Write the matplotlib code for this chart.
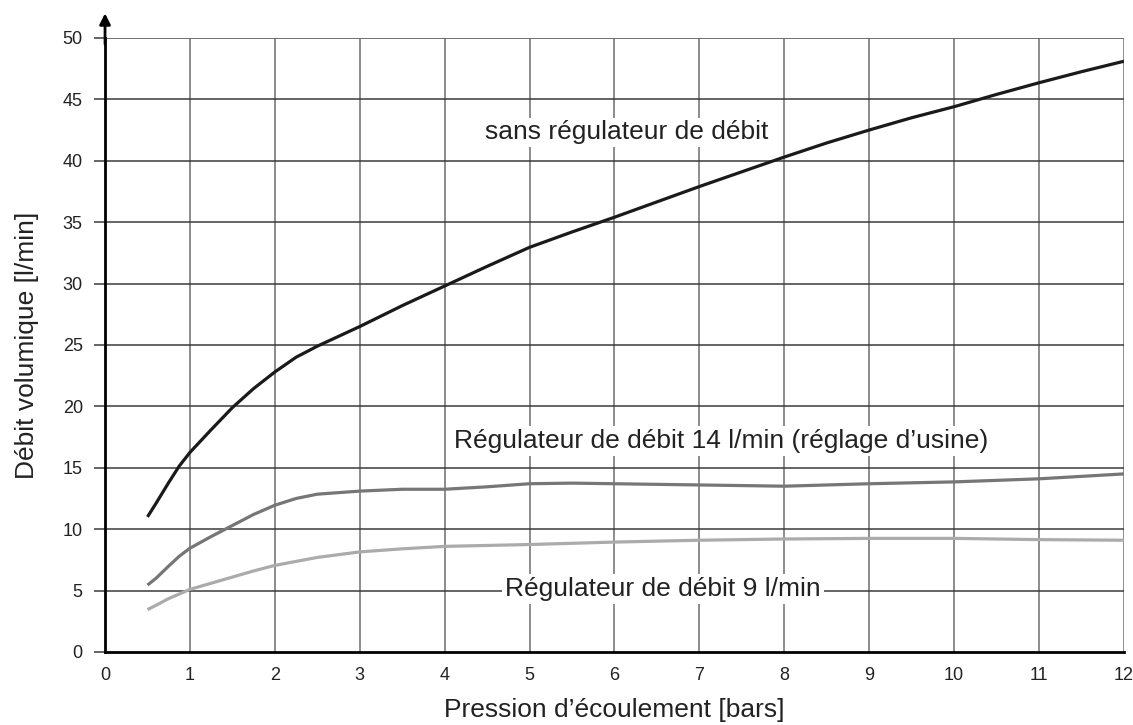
import numpy as np
import matplotlib
matplotlib.use('Agg')
import matplotlib.pyplot as plt

plt.rcParams['font.family'] = ['Liberation Sans', 'DejaVu Sans']

# values
x_free = [0.5, 0.6, 0.75, 0.875, 1.0, 1.25, 1.5, 1.75, 2.0, 2.25, 2.5, 2.75, 3.0, 3.5, 4.0,
          4.5, 5.0, 5.5, 6.0, 6.5, 7.0, 7.5, 8.0, 8.5, 9.0, 9.5, 10.0, 10.5, 11.0, 11.5, 12.0]
y_free = [11.0, 12.1, 13.8, 15.15, 16.25, 18.1, 19.9, 21.45, 22.8, 24.0, 24.9, 25.7, 26.5, 28.2, 29.8,
          31.4, 32.95, 34.2, 35.4, 36.65, 37.9, 39.1, 40.3, 41.45, 42.5, 43.5, 44.4, 45.4, 46.35, 47.25, 48.1]

x_14 = [0.5, 0.6, 0.75, 0.875, 1.0, 1.25, 1.5, 1.75, 2.0, 2.25, 2.5, 3.0, 3.5, 4.0, 4.5, 5.0,
        5.5, 6.0, 7.0, 8.0, 9.0, 10.0, 11.0, 12.0]
y_14 = [5.45, 6.0, 7.0, 7.8, 8.45, 9.4, 10.3, 11.2, 11.95, 12.5, 12.85, 13.1, 13.25, 13.25, 13.45, 13.7,
        13.75, 13.7, 13.6, 13.5, 13.7, 13.85, 14.1, 14.5]

x_9 = [0.5, 0.6, 0.75, 1.0, 1.25, 1.5, 1.75, 2.0, 2.5, 3.0, 3.5, 4.0, 5.0, 6.0, 7.0, 8.0, 9.0, 10.0, 11.0, 12.0]
y_9 = [3.45, 3.8, 4.35, 5.1, 5.6, 6.1, 6.6, 7.05, 7.7, 8.15, 8.4, 8.6, 8.75, 8.95, 9.1, 9.2, 9.25, 9.25, 9.15, 9.1]

x_ticks = list(range(0, 13))
y_ticks = list(range(0, 51, 5))

fig = plt.figure(figsize=(11.33, 7.25), dpi=100)
ax = fig.add_axes([0.0927, 0.1007, 0.8993, 0.847])
ax.set_xlim(0, 12)
ax.set_ylim(0, 50)

# grid: vertical grey, horizontal darker
for xv in x_ticks[1:]:
    ax.axvline(xv, color='#6e6e6e', lw=1.1, zorder=1)
for yv in y_ticks[1:]:
    ax.axhline(yv, color='#3a3a3a', lw=1.1, zorder=1)
ax.axhline(50, color='#777777', lw=1.1, zorder=1)

ax.plot(x_free, y_free, color='#1a1a1a', lw=2.3, zorder=4, solid_capstyle='butt')
ax.plot(x_14, y_14, color='#767676', lw=2.3, zorder=4, solid_capstyle='butt')
ax.plot(x_9, y_9, color='#ababab', lw=2.3, zorder=4, solid_capstyle='butt')

box = dict(facecolor='white', edgecolor='none', pad=2)
ax.text(6.14, 42.3, 'sans régulateur de débit', fontsize=19, color='#222222',
        ha='center', va='center', bbox=box, zorder=2)
ax.text(7.26, 17.2, 'Régulateur de débit 14 l/min (réglage d\u2019usine)', fontsize=19,
        color='#222222', ha='center', va='center', bbox=box, zorder=2)
ax.text(6.57, 5.1, 'Régulateur de débit 9 l/min', fontsize=19, color='#222222',
        ha='center', va='center', bbox=box, zorder=2)

for s in ['top', 'right']:
    ax.spines[s].set_visible(False)
ax.spines['left'].set_linewidth(2)
ax.spines['bottom'].set_linewidth(2)
ax.spines['left'].set_zorder(5)
ax.spines['bottom'].set_zorder(5)

# arrow on y-axis
ax.annotate('', xy=(0, 1.04), xytext=(0, 0.99), xycoords='axes fraction',
            arrowprops=dict(arrowstyle='-|>', color='black', lw=2, mutation_scale=16,
                            shrinkA=0, shrinkB=0), annotation_clip=False)

ax.set_xticks(x_ticks)
ax.set_yticks(y_ticks)
ax.tick_params(axis='x', length=0, pad=11, labelsize=13, colors='#222222')
ax.tick_params(axis='y', length=8, width=1.1, color='#3a3a3a', pad=8, labelsize=13,
               labelcolor='#222222')

ax.set_xlabel('Pression d\u2019écoulement [bars]', fontsize=19, color='#222222', labelpad=10)
ax.set_ylabel('Débit volumique [l/min]', fontsize=19, color='#222222', labelpad=17)

fig.savefig('out.png', dpi=100)
